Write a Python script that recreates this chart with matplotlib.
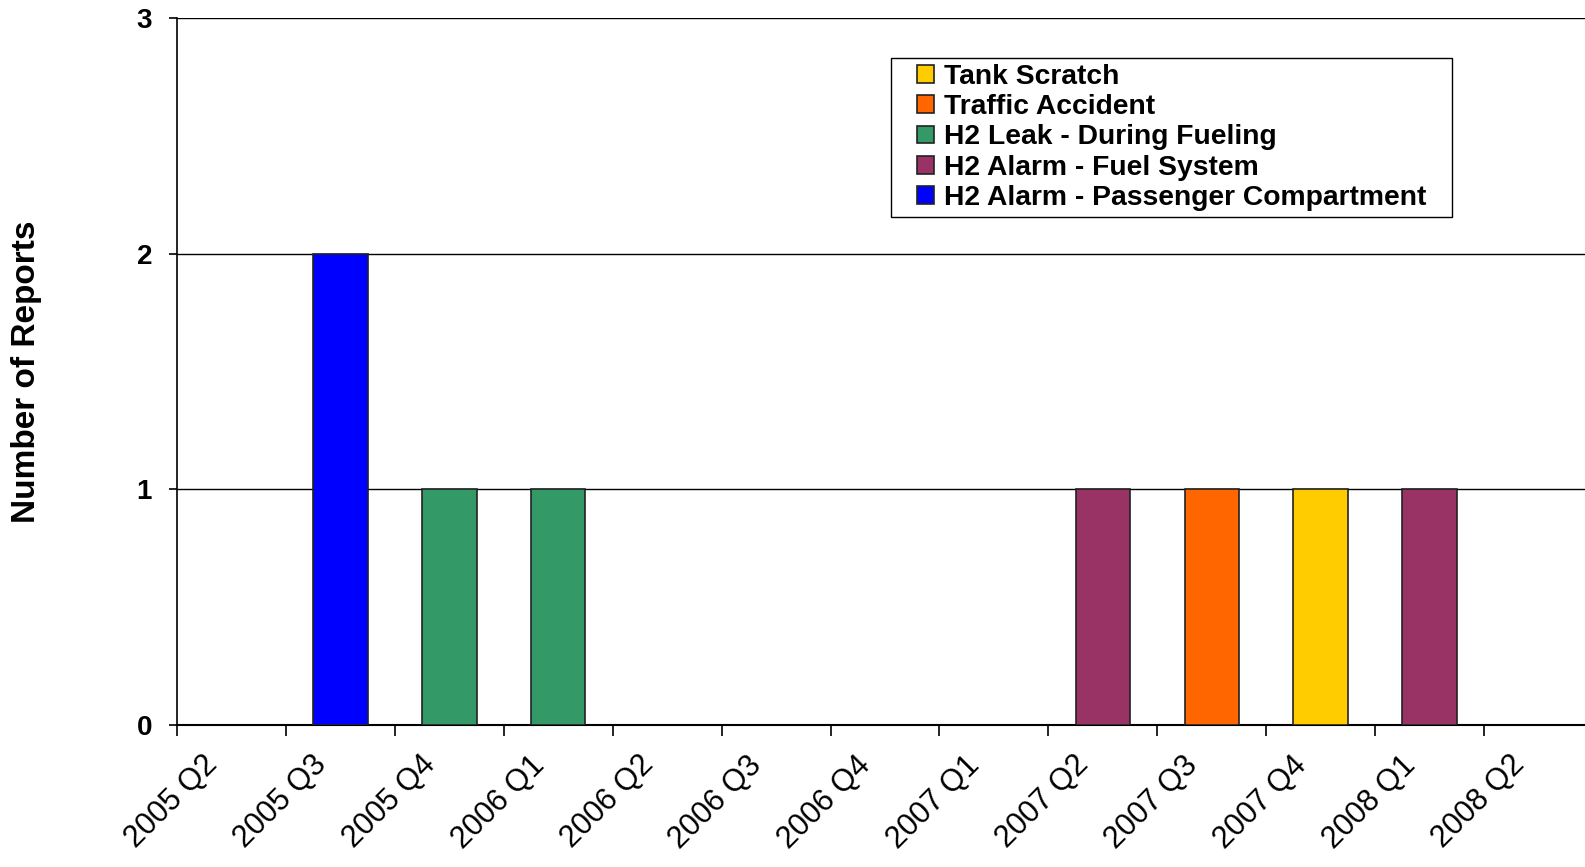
import numpy as np
import matplotlib
matplotlib.use("Agg")
import matplotlib.pyplot as plt
import matplotlib.transforms as mtransforms
from matplotlib.patches import Patch, Rectangle

plt.rcParams['font.family'] = ['Liberation Sans', 'DejaVu Sans']

quarters = ['2005 Q2', '2005 Q3', '2005 Q4', '2006 Q1', '2006 Q2', '2006 Q3', '2006 Q4',
            '2007 Q1', '2007 Q2', '2007 Q3', '2007 Q4', '2008 Q1', '2008 Q2']

# stacking order, bottom to top
passenger = [0, 2, 0, 0, 0, 0, 0, 0, 0, 0, 0, 0, 0]
fuel_system = [0, 0, 0, 0, 0, 0, 0, 0, 1, 0, 0, 1, 0]
leak_fueling = [0, 0, 1, 1, 0, 0, 0, 0, 0, 0, 0, 0, 0]
traffic = [0, 0, 0, 0, 0, 0, 0, 0, 0, 1, 0, 0, 0]
tank_scratch = [0, 0, 0, 0, 0, 0, 0, 0, 0, 0, 1, 0, 0]

series = [
    ('H2 Alarm - Passenger Compartment', passenger, '#0000FF'),
    ('H2 Alarm - Fuel System', fuel_system, '#993366'),
    ('H2 Leak - During Fueling', leak_fueling, '#339966'),
    ('Traffic Accident', traffic, '#FF6600'),
    ('Tank Scratch', tank_scratch, '#FFCC00'),
]

W, H = 1585, 867
fig = plt.figure(figsize=(W / 100, H / 100), dpi=100)
ax = fig.add_axes([177 / W, (H - 725) / H, (1593 - 177) / W, (725 - 18) / H])

x = np.arange(len(quarters))
bottom = np.zeros(len(quarters))
handles = []
for name, vals, col in series:
    vals = np.array(vals, dtype=float)
    m = vals > 0
    ax.bar(x[m], vals[m], bottom=bottom[m], width=0.5, color=col,
           edgecolor='#222222', linewidth=1.2, zorder=3)
    bottom += vals
    handles.append(Patch(facecolor=col, edgecolor='#222222', linewidth=1.2, label=name))

ax.set_xlim(-0.5, len(quarters) - 0.5)
ax.set_ylim(0, 3)
ax.set_yticks([0, 1, 2, 3])
for yv in [1, 2, 3]:
    ax.axhline(yv, color='black', linewidth=1.0, zorder=1)

for s in ['top', 'right']:
    ax.spines[s].set_visible(False)
ax.spines['left'].set_linewidth(1.2)
ax.spines['bottom'].set_linewidth(1.5)

ax.tick_params(axis='y', length=6, width=1.2, pad=12, labelsize=20)
for lab in ax.get_yticklabels():
    lab.set_fontweight('bold')

ax.set_xticks(x)
ax.set_xticklabels(quarters, rotation=45, ha='right', va='top', fontsize=22)
ax.tick_params(axis='x', which='major', length=0, pad=18)
ax.set_xticks(np.arange(len(quarters) + 1) - 0.5, minor=True)
ax.tick_params(axis='x', which='minor', length=8, width=1.2)
off = mtransforms.ScaledTranslation(-8 / 100, 0, fig.dpi_scale_trans)
for lab in ax.get_xticklabels():
    lab.set_transform(lab.get_transform() + off)

fig.text(27 / W, 1 - 372 / H, 'Number of Reports', rotation=90, ha='center', va='center',
         fontsize=24, fontweight='bold')

leg = ax.legend(handles=handles[::-1], loc='upper left',
                bbox_to_anchor=(917 / W, 1 - 64 / H), bbox_transform=fig.transFigure,
                prop={'weight': 'bold', 'size': 20.3}, frameon=False,
                handlelength=0.6, handleheight=0.6, handletextpad=0.35,
                labelspacing=0.15, borderpad=0, borderaxespad=0)
leg.set_zorder(6)

# legend frame with wider side padding than top/bottom
fig.canvas.draw()
bb = leg.get_window_extent().transformed(fig.transFigure.inverted())
px, py = 26 / W, 6 / H
ax.add_patch(Rectangle((bb.x0 - px, bb.y0 - py), bb.width + 2 * px, bb.height + 2 * py,
                       transform=fig.transFigure, facecolor='white', edgecolor='black',
                       linewidth=1.0, zorder=5, clip_on=False))

fig.savefig('out.png', dpi=100)
